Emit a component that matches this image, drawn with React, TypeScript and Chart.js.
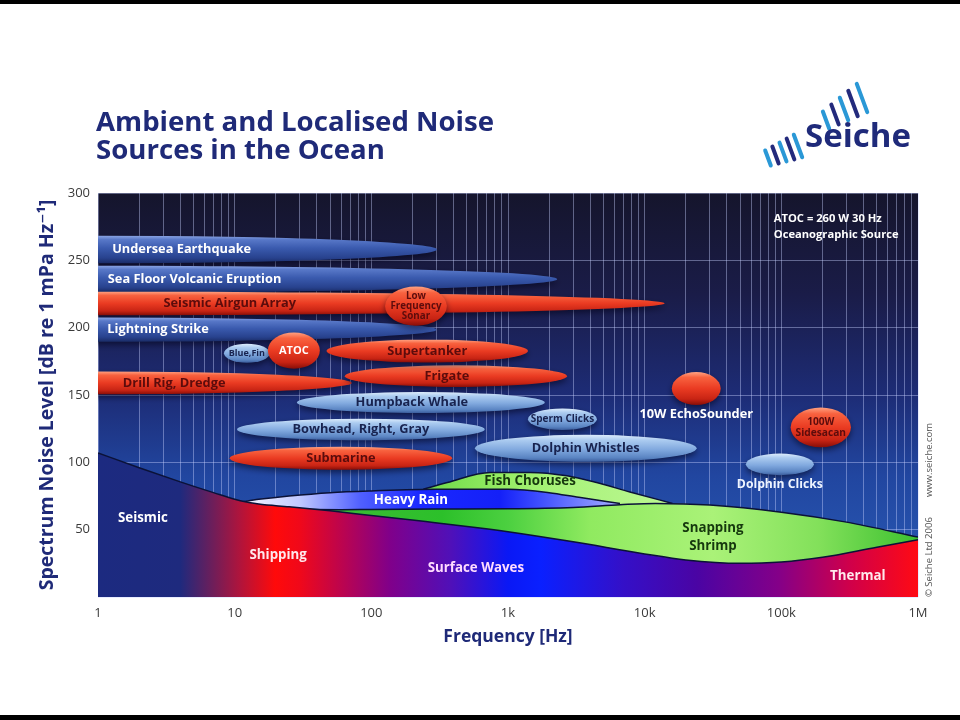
import React, { useEffect, useRef } from 'react';
import { Chart, registerables } from 'chart.js';

Chart.register(...registerables);

// ---------- axes ----------
const DECADE_VALUES = [1, 10, 100, 1000, 10000, 100000, 1000000];
const DECADE_LABELS = ['1', '10', '100', '1k', '10k', '100k', '1M'];
const LEVEL_TICKS = [0, 50, 100, 150, 200, 250, 300];

// ---------- ambient noise regions (top edge: frequency Hz / level dB) ----------
const LOWER_F = [1, 2, 4, 7, 11, 15, 25, 50, 100, 250, 600, 1000, 3000, 10000, 20000, 50000, 100000, 200000, 500000, 1000000];
const LOWER_DB = [107, 96, 85.5, 77.5, 71.5, 69, 67, 64, 60.5, 56, 51.5, 48.5, 41, 32, 27.5, 25, 26, 29.5, 37, 42.5];

const SHRIMP_F = [30, 60, 100, 300, 1000, 3000, 6600, 12000, 30000, 100000, 300000, 1000000];
const SHRIMP_DB = [65, 64.8, 65, 65.3, 65.5, 66.5, 68.5, 69.5, 68.3, 63, 55.6, 44.5];

const RAIN_F = [11, 15, 25, 50, 100, 300, 1000, 2000, 3300, 6600];
const RAIN_DB = [70.5, 72.5, 75, 77.5, 78.8, 80, 80, 77.5, 74, 69.5];

const FISH_F = [240, 360, 740, 1450, 2700, 4450, 7800, 16000];
const FISH_DB = [80, 85, 92.5, 92.5, 90, 85, 78, 69.5];

// ---------- localised sources ----------
const SOURCE_NAMES = [
  'Undersea Earthquake', 'Sea Floor Volcanic Eruption', 'Seismic Airgun Array', 'Lightning Strike',
  'Drill Rig, Dredge', 'Frigate', 'Supertanker', 'Blue,Fin', 'ATOC', 'Low Frequency Sonar',
  'Humpback Whale', 'Bowhead, Right, Gray', 'Submarine', 'Sperm Clicks', 'Dolphin Whistles',
  '10W EchoSounder', '100W Sidesacan', 'Dolphin Clicks',
];
const SOURCE_F_MIN = [0.0033, 0.00044, 0.00007, 0.0033, 0.0139, 64, 47, 8.35, 17.5, 126, 28.5, 10.4, 9.2, 1400, 573, 15800, 117000, 55000];
const SOURCE_F_MAX = [302, 2290, 14000, 300, 72, 2700, 1400, 18.1, 42, 357, 1860, 676, 390, 4470, 24000, 36000, 323000, 173000];
const SOURCE_LEVEL = [258, 236, 218, 198.5, 159, 164, 182.6, 181, 183, 216, 144.4, 124.4, 103, 132, 110.4, 154.8, 126, 98.5];
const SOURCE_SPREAD = [20.5, 20, 17.5, 18, 17, 16, 17, 14, 27, 29, 15.5, 16, 17, 16, 20, 24.4, 29.6, 16];
const SOURCE_KIND = ['deep', 'deep', 'red', 'deep', 'red', 'red', 'red', 'light', 'red', 'red', 'light', 'light', 'red', 'light', 'light', 'red', 'red', 'light'];

// ---------- styling (not data) ----------
const DARK_RED = '#5c0c0c';
const NAVY_TXT = '#18234f';
const FONT = '"Open Sans", "DejaVu Sans", sans-serif';

type LabelStyle = { color: string; size?: number; align?: 'left' | 'center'; atF?: number; atDb?: number; lines?: string[]; gap?: number };
const SOURCE_LABEL_STYLE: Record<string, LabelStyle> = {
  'Undersea Earthquake': { color: '#ffffff', align: 'left', atF: 1.27 },
  'Sea Floor Volcanic Eruption': { color: '#ffffff', align: 'left', atF: 1.18 },
  'Seismic Airgun Array': { color: DARK_RED, atF: 9.2 },
  'Lightning Strike': { color: '#ffffff', align: 'left', atF: 1.17 },
  'Drill Rig, Dredge': { color: DARK_RED, align: 'left', atF: 1.52 },
  'Frigate': { color: DARK_RED, atF: 357 },
  'Supertanker': { color: DARK_RED },
  'Blue,Fin': { color: NAVY_TXT, size: 9 },
  'ATOC': { color: '#ffffff', size: 11 },
  'Low Frequency Sonar': { color: DARK_RED, size: 9.8, lines: ['Low', 'Frequency', 'Sonar'], gap: 9.8 },
  'Humpback Whale': { color: NAVY_TXT, atF: 198 },
  'Bowhead, Right, Gray': { color: NAVY_TXT },
  'Submarine': { color: DARK_RED },
  'Sperm Clicks': { color: NAVY_TXT, size: 10 },
  'Dolphin Whistles': { color: NAVY_TXT },
  '10W EchoSounder': { color: '#ffffff', size: 12.8, atDb: 135.6 },
  '100W Sidesacan': { color: DARK_RED, size: 10.2, lines: ['100W', 'Sidesacan'], gap: 11 },
  'Dolphin Clicks': { color: '#eef4ff', size: 12.2, atDb: 83.7 },
};

const REGION_LABELS = [
  { lines: ['Seismic'], f: 2.13, db: 58.5, color: '#ffffff' },
  { lines: ['Shipping'], f: 20.8, db: 31, color: '#ffe8ec' },
  { lines: ['Surface Waves'], f: 582, db: 21.5, color: '#ffdcff' },
  { lines: ['Thermal'], f: 363000, db: 15.6, color: '#ffe8ec' },
  { lines: ['Heavy Rain'], f: 195, db: 71.9, color: '#ffffff' },
  { lines: ['Fish Choruses'], f: 1450, db: 86, color: '#16380e' },
  { lines: ['Snapping', 'Shrimp'], f: 31600, db: 44.4, color: '#16380e' },
];

const NOTE_LINES = ['ATOC = 260 W 30 Hz', 'Oceanographic Source'];
const NOTE_F = 88000;
const NOTE_DB = [280.7, 268.9];

const PALETTES: Record<string, [number, string][]> = {
  deep: [[0, '#8aa4e4'], [0.14, '#5878c8'], [0.45, '#3a5aae'], [0.8, '#28428e'], [1, '#1a2c66']],
  red: [[0, '#ffa282'], [0.16, '#f8623f'], [0.5, '#ea3b22'], [0.82, '#c82414'], [1, '#880e08']],
  light: [[0, '#dcecfc'], [0.2, '#abcbf0'], [0.55, '#80a8de'], [0.85, '#5a84c2'], [1, '#3c5e9e']],
};

const LOWER_STOPS: [number, string][] = [
  [0, '#1c2a80'], [0.1, '#1e2a7e'], [0.173, '#b0143c'], [0.216, '#ff0a0a'], [0.246, '#f0081a'],
  [0.356, '#80008a'], [0.43, '#5010b8'], [0.5, '#0a18f5'], [0.54, '#0a20ff'], [0.64, '#3410c8'],
  [0.73, '#4a04a4'], [0.83, '#840088'], [0.917, '#d0004a'], [1, '#ff0a14'],
];
const SHRIMP_STOPS: [number, string][] = [
  [0.25, '#40b838'], [0.42, '#2cc02a'], [0.5, '#4cd040'], [0.6, '#90ea60'], [0.75, '#aaf278'], [0.88, '#82e05a'], [1, '#3cc030'],
];
const RAIN_STOPS: [number, string][] = [
  [0.179, '#f4f6ff'], [0.246, '#c0c8ff'], [0.32, '#5060ff'], [0.393, '#1a28ff'], [0.49, '#1420f8'], [0.54, '#4050ff'], [0.637, '#a8b0ff'],
];
const FISH_STOPS: [number, string][] = [
  [0.396, '#6cd848'], [0.49, '#94ec62'], [0.56, '#a8f27a'], [0.7, '#bcf892'],
];

const GRID_COLOR = 'rgba(200,210,255,0.42)';

function hGradient(chart: any, stops: [number, string][], fallback: string) {
  const a = chart.chartArea;
  if (!a) return fallback;
  const g = chart.ctx.createLinearGradient(a.left, 0, a.right, 0);
  stops.forEach(([p, c]) => g.addColorStop(p, c));
  return g;
}

function region(label: string, fs: number[], dbs: number[], stops: [number, string][], fallback: string, order: number) {
  return {
    label,
    data: fs.map((f, i) => ({ x: f, y: dbs[i] })),
    showLine: true,
    fill: 'origin',
    pointRadius: 0,
    borderColor: '#0b1238',
    borderWidth: 1.5,
    cubicInterpolationMode: 'monotone',
    backgroundColor: (c: any) => hGradient(c.chart, stops, fallback),
    order,
  };
}

function drawLines(ctx: CanvasRenderingContext2D, lines: string[], x: number, y: number, gap: number) {
  const start = y - ((lines.length - 1) * gap) / 2;
  lines.forEach((t, k) => ctx.fillText(t, x, start + k * gap));
}

const backgroundPlugin = {
  id: 'plotBackground',
  beforeDraw(chart: any) {
    const { ctx, chartArea: a } = chart;
    ctx.save();
    ctx.fillStyle = '#ffffff';
    ctx.fillRect(0, 0, chart.width, chart.height);
    const g = ctx.createLinearGradient(0, a.top, 0, a.bottom);
    g.addColorStop(0, '#15152c');
    g.addColorStop(0.25, '#1a1c48');
    g.addColorStop(0.5, '#1d2c76');
    g.addColorStop(0.7, '#2146a0');
    g.addColorStop(1, '#2a5cb8');
    ctx.fillStyle = g;
    ctx.fillRect(a.left, a.top, a.right - a.left, a.bottom - a.top);
    ctx.restore();
  },
};

const sourcesPlugin = {
  id: 'sources',
  afterDatasetsDraw(chart: any) {
    const { ctx, chartArea: a, scales } = chart;
    const x = scales.x;
    const y = scales.y;
    ctx.save();
    ctx.beginPath();
    ctx.rect(a.left, a.top, a.right - a.left, a.bottom - a.top);
    ctx.clip();

    const external: number[] = [];
    SOURCE_NAMES.forEach((name, i) => {
      const x0 = x.getPixelForValue(SOURCE_F_MIN[i]);
      const x1 = x.getPixelForValue(SOURCE_F_MAX[i]);
      const cy = y.getPixelForValue(SOURCE_LEVEL[i]);
      const ry = Math.abs(y.getPixelForValue(SOURCE_LEVEL[i] + SOURCE_SPREAD[i] / 2) - cy);
      const cx = (x0 + x1) / 2;
      const rx = (x1 - x0) / 2;
      const g = ctx.createLinearGradient(0, cy - ry, 0, cy + ry);
      PALETTES[SOURCE_KIND[i]].forEach(([p, c]) => g.addColorStop(p, c));
      ctx.save();
      ctx.shadowColor = 'rgba(0,0,20,0.55)';
      ctx.shadowBlur = 6;
      ctx.shadowOffsetY = 3;
      ctx.beginPath();
      ctx.ellipse(cx, cy, rx, ry, 0, 0, Math.PI * 2);
      ctx.fillStyle = g;
      ctx.fill();
      ctx.restore();

      const st = SOURCE_LABEL_STYLE[name];
      if (st.atDb !== undefined) { external.push(i); return; }
      ctx.font = `bold ${st.size || 12.8}px ${FONT}`;
      ctx.fillStyle = st.color;
      ctx.textBaseline = 'middle';
      ctx.textAlign = st.align === 'left' ? 'left' : 'center';
      const tx = st.atF !== undefined ? x.getPixelForValue(st.atF) : cx;
      drawLines(ctx, st.lines || [name], tx, cy, st.gap || 12);
    });

    external.forEach((i) => {
      const name = SOURCE_NAMES[i];
      const st = SOURCE_LABEL_STYLE[name];
      const cx = (x.getPixelForValue(SOURCE_F_MIN[i]) + x.getPixelForValue(SOURCE_F_MAX[i])) / 2;
      ctx.font = `bold ${st.size || 12.5}px ${FONT}`;
      ctx.fillStyle = st.color;
      ctx.textBaseline = 'middle';
      ctx.textAlign = 'center';
      ctx.fillText(name, cx, y.getPixelForValue(st.atDb));
    });

    REGION_LABELS.forEach((r) => {
      ctx.font = `bold 13.3px ${FONT}`;
      ctx.fillStyle = r.color;
      ctx.textBaseline = 'middle';
      ctx.textAlign = 'center';
      drawLines(ctx, r.lines, x.getPixelForValue(r.f), y.getPixelForValue(r.db), 18);
    });

    ctx.font = `bold 11.2px ${FONT}`;
    ctx.fillStyle = '#ffffff';
    ctx.textAlign = 'left';
    ctx.textBaseline = 'middle';
    NOTE_LINES.forEach((t, k) => ctx.fillText(t, x.getPixelForValue(NOTE_F), y.getPixelForValue(NOTE_DB[k])));
    ctx.restore();
  },
};

const decorPlugin = {
  id: 'decor',
  afterDraw(chart: any) {
    const { ctx } = chart;
    ctx.save();
    // frame bars
    ctx.fillStyle = '#000000';
    ctx.fillRect(0, 0, chart.width, 4);
    ctx.fillRect(0, 715, chart.width, 5);

    // title
    ctx.fillStyle = '#1f2a78';
    ctx.font = `bold 27.6px ${FONT}`;
    ctx.textAlign = 'left';
    ctx.textBaseline = 'alphabetic';
    ctx.fillText('Ambient and Localised Noise', 96, 131);
    ctx.fillText('Sources in the Ocean', 96, 159);

    // logo
    const strokes = (ox: number, oy: number, n: number, dx: number, dy: number, len0: number, dl: number) => {
      for (let k = 0; k < n; k++) {
        const cx = ox + k * dx;
        const cy = oy + k * dy;
        const len = len0 + k * dl;
        const ux = 0.35, uy = 0.94;
        ctx.strokeStyle = k % 2 === 0 ? '#2a98d6' : '#232a7c';
        ctx.lineWidth = 4;
        ctx.lineCap = 'round';
        ctx.beginPath();
        ctx.moveTo(cx - (ux * len) / 2, cy - (uy * len) / 2);
        ctx.lineTo(cx + (ux * len) / 2, cy + (uy * len) / 2);
        ctx.stroke();
      }
    };
    strokes(768, 158, 5, 7.5, -3, 16, 2);
    strokes(826, 120, 5, 9, -5.5, 18, 3);
    ctx.fillStyle = '#1f2a7a';
    ctx.font = `bold 33px ${FONT}`;
    ctx.fillText('Seiche', 805, 147);

    // copyright
    ctx.translate(929, 597);
    ctx.rotate(-Math.PI / 2);
    ctx.fillStyle = '#555555';
    ctx.font = `9.5px ${FONT}`;
    ctx.textBaseline = 'middle';
    ctx.fillText('© Seiche Ltd 2006', 0, 0);
    ctx.fillText('www.seiche.com', 100, 0);
    ctx.restore();
  },
};

export default function App() {
  const ref = useRef<HTMLCanvasElement | null>(null);

  useEffect(() => {
    document.body.style.margin = '0';
    const canvas = ref.current;
    if (!canvas) return;

    const xTicks: { value: number }[] = [];
    DECADE_VALUES.forEach((d, i) => {
      if (i === DECADE_VALUES.length - 1) { xTicks.push({ value: d }); return; }
      for (let m = 1; m <= 9; m++) xTicks.push({ value: d * m });
    });

    const chart = new Chart(canvas, {
      type: 'scatter',
      data: {
        datasets: [
          region('Seismic / Shipping / Surface Waves / Thermal', LOWER_F, LOWER_DB, LOWER_STOPS, '#3010c0', 1),
          region('Snapping Shrimp', SHRIMP_F, SHRIMP_DB, SHRIMP_STOPS, '#60d040', 2),
          region('Heavy Rain', RAIN_F, RAIN_DB, RAIN_STOPS, '#2030ff', 3),
          region('Fish Choruses', FISH_F, FISH_DB, FISH_STOPS, '#90ea60', 4),
          {
            label: 'Sources',
            data: SOURCE_NAMES.map((_, i) => ({ x: Math.sqrt(SOURCE_F_MIN[i] * SOURCE_F_MAX[i]), y: SOURCE_LEVEL[i] })),
            pointRadius: 0,
            showLine: false,
            order: 5,
          },
        ] as any,
      },
      options: {
        animation: false,
        responsive: false,
        devicePixelRatio: 1,
        events: [],
        layout: { padding: { left: 0, top: 193, right: 42, bottom: 0 } },
        plugins: { legend: { display: false }, tooltip: { enabled: false } },
        scales: {
          x: {
            type: 'logarithmic',
            min: 1,
            max: 1000000,
            afterBuildTicks: (scale: any) => { scale.ticks = xTicks.map((t) => ({ ...t })); },
            afterFit: (scale: any) => { scale.height = 123; },
            ticks: {
              autoSkip: false,
              maxRotation: 0,
              padding: 8,
              color: '#3a3a3a',
              font: { family: FONT, size: 13 },
              callback: (v: any) => {
                const k = DECADE_VALUES.indexOf(Number(v));
                return k >= 0 ? DECADE_LABELS[k] : '';
              },
            },
            grid: { color: GRID_COLOR, lineWidth: 1, drawTicks: false },
            border: { display: false },
            title: {
              display: true,
              text: 'Frequency [Hz]',
              color: '#1f2a78',
              font: { family: FONT, size: 17.5, weight: 'bold' },
              padding: { top: 0, bottom: 72 },
            },
          },
          y: {
            type: 'linear',
            min: 0,
            max: 300,
            afterBuildTicks: (scale: any) => { scale.ticks = LEVEL_TICKS.map((v) => ({ value: v })); },
            afterFit: (scale: any) => { scale.width = 98; },
            ticks: {
              padding: 8,
              color: '#3a3a3a',
              font: { family: FONT, size: 13 },
              callback: (v: any) => (Number(v) === 0 ? '' : String(v)),
            },
            grid: { color: GRID_COLOR, lineWidth: 1, drawTicks: false },
            border: { display: false },
            title: {
              display: true,
              text: 'Spectrum Noise Level [dB re 1 mPa Hz⁻¹]',
              color: '#1f2a78',
              font: { family: FONT, size: 19.5, weight: 'bold' },
              padding: { top: 36, bottom: 0 },
            },
          },
        },
      } as any,
      plugins: [backgroundPlugin, sourcesPlugin, decorPlugin],
    });

    return () => chart.destroy();
  }, []);

  return (
    <div style={{ width: 960, height: 720, position: 'relative' }}>
      <canvas ref={ref} width={960} height={720} style={{ display: 'block', width: 960, height: 720 }} />
    </div>
  );
}
